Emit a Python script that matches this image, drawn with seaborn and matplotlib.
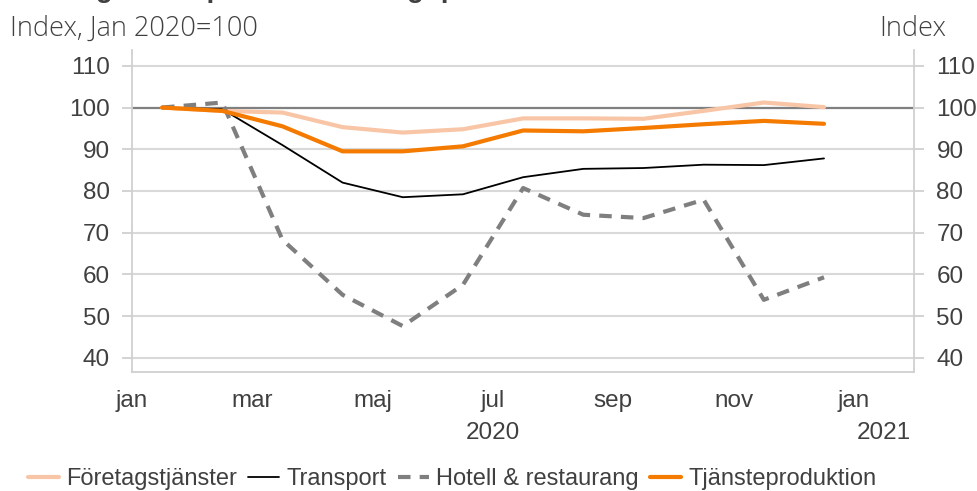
import numpy as np
import pandas as pd
import matplotlib
matplotlib.use("Agg")
import matplotlib.pyplot as plt
import matplotlib.transforms as mtransforms
import seaborn as sns

# values (index, Jan 2020 = 100)
months = ["jan", "feb", "mar", "apr", "maj", "jun", "jul", "aug", "sep", "okt", "nov", "dec"]
foretag = [100.0, 99.2, 98.8, 95.3, 94.0, 94.8, 97.4, 97.4, 97.3, 99.2, 101.2, 100.1]
transport = [100.0, 99.6, 91.0, 82.0, 78.5, 79.2, 83.3, 85.3, 85.5, 86.3, 86.2, 87.8]
hotell = [100.0, 101.2, 68.3, 55.1, 47.6, 57.5, 80.7, 74.3, 73.5, 77.9, 53.9, 59.3]
tjanste = [100.0, 99.2, 95.5, 89.5, 89.5, 90.7, 94.5, 94.3, 95.1, 96.0, 96.8, 96.1]

tick_labels = ["jan", "mar", "maj", "jul", "sep", "nov", "jan"]
year_labels = ["2020", "2021"]
yticks = [40, 50, 60, 70, 80, 90, 100, 110]

series_names = ["Företagstjänster", "Transport", "Hotell & restaurang", "Tjänsteproduktion"]

# month slots: each point sits in the middle of its month
x = np.arange(len(months)) + 0.5
df = pd.DataFrame({
    "x": np.tile(x, 4),
    "value": foretag + transport + hotell + tjanste,
    "serie": np.repeat(series_names, len(months)),
})

sns.set_style("white")
plt.rcParams["font.family"] = ["Liberation Sans", "DejaVu Sans"]
text_col = "#404040"

fig = plt.figure(figsize=(9.77, 4.91), dpi=100)
ax = fig.add_axes([0.1351, 0.2424, 0.8007, 0.6558])

styles = {
    "Företagstjänster": dict(color="#F8C6A6", lw=3.0, ls="-"),
    "Transport": dict(color="#000000", lw=1.3, ls="-"),
    "Hotell & restaurang": dict(color="#7F7F7F", lw=3.0, ls=(0, (3.0, 2.2))),
    "Tjänsteproduktion": dict(color="#F57A00", lw=3.0, ls="-"),
}

ax.axhline(100, color="#808080", lw=1.6, zorder=1)
for name in series_names:
    st = styles[name]
    sns.lineplot(data=df[df["serie"] == name], x="x", y="value", ax=ax,
                 color=st["color"], linewidth=st["lw"], linestyle=st["ls"],
                 label=name, zorder=3)

ax.set_xlim(0, 13)
ax.set_ylim(36.6, 113.8)
ax.set_xticks(np.arange(0, 13, 2))
ax.set_xticklabels(tick_labels)
ax.set_xticks([0, 12], minor=True)
ax.set_yticks(yticks)
ax.yaxis.grid(True, color="#D9D9D9", lw=1.5)
ax.set_axisbelow(True)
ax.set_xlabel("")
ax.set_ylabel("")

for side in ["left", "bottom", "right"]:
    ax.spines[side].set_visible(True)
    ax.spines[side].set_color("#D0D0D0")
    ax.spines[side].set_linewidth(1.3)
ax.spines["top"].set_visible(False)

ax.tick_params(axis="x", which="major", direction="out", length=3, width=1.5,
               color="#595959", labelsize=17.5, labelcolor=text_col, pad=10)
ax.tick_params(axis="x", which="minor", direction="out", length=7.5, width=1.5,
               color="#595959")
ax.tick_params(axis="y", direction="out", length=7.5, width=1.3, color="#D0D0D0",
               labelsize=17.5, labelcolor=text_col, pad=8.5,
               left=True, right=True, labelleft=True, labelright=True)

# year row under the month labels
trans = mtransforms.blended_transform_factory(ax.transData, ax.transAxes)
ax.text(6, -0.19, year_labels[0], transform=trans, ha="center", va="center",
        fontsize=17.5, color=text_col)
ax.text(12.5, -0.19, year_labels[1], transform=trans, ha="center", va="center",
        fontsize=17.5, color=text_col)

# axis captions and (clipped) title
fig.text(0.010, 1 - 29 / 491, "Index, Jan 2020=100", ha="left", va="center",
         fontsize=19.5, color=text_col, family=["Open Sans", "DejaVu Sans"], fontweight="light")
fig.text(0.969, 1 - 29 / 491, "Index", ha="right", va="center",
         fontsize=19.5, color=text_col, family=["Open Sans", "DejaVu Sans"], fontweight="light")
fig.text(25 / 977, 1 + 3 / 491, "Näringslivets produktion enligt produktionsvärdeindex",
         ha="left", va="baseline", fontsize=20, fontweight="bold", color=text_col)

handles, labels = ax.get_legend_handles_labels()
ax.get_legend().remove()
fig.legend(handles, labels, loc="center", bbox_to_anchor=(452 / 977, 1 - 479.5 / 491),
           ncol=4, frameon=False, fontsize=17, handlelength=1.3, handletextpad=0.3,
           columnspacing=0.5, labelcolor=text_col, borderaxespad=0)

fig.savefig("out.png", dpi=100)
